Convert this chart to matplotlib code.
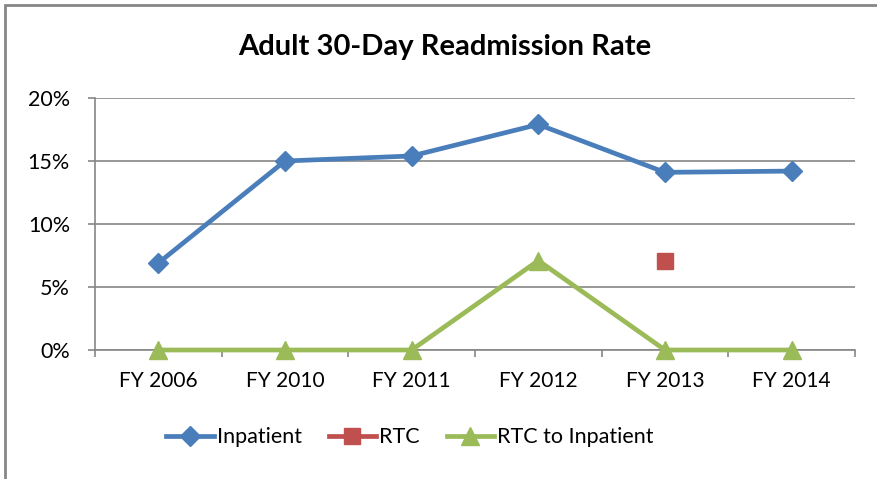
import matplotlib
matplotlib.use("Agg")
import matplotlib.pyplot as plt
from matplotlib.patches import Rectangle
from matplotlib.ticker import FuncFormatter, FixedLocator
import numpy as np

#----Data----#
years = ["FY 2006", "FY 2010", "FY 2011", "FY 2012", "FY 2013", "FY 2014"]
inpatient = [6.9, 15.0, 15.4, 17.9, 14.1, 14.2]
rtc = [None, None, None, None, 7.1, None]
rtc_to_inpatient = [0.0, 0.0, 0.0, 7.1, 0.0, 0.0]

plt.rcParams['font.family'] = ['Lato', 'DejaVu Sans']

grey = '#868686'

fig = plt.figure(figsize=(8.77, 4.79), dpi=100)
ax = fig.add_axes([0.1083, 0.2693, 0.8666, 0.5261])

x = np.arange(len(years))
rtc_vals = np.array([np.nan if v is None else v for v in rtc], dtype=float)

ax.plot(x, inpatient, color='#4A7EBB', lw=3.4, marker='D', markersize=10,
        label='Inpatient', zorder=4, clip_on=False)
ax.plot(x, rtc_vals, color='#C0504D', lw=3.4, marker='s', markersize=11,
        label='RTC', zorder=4, clip_on=False)
ax.plot(x, rtc_to_inpatient, color='#9BBB59', lw=3.4, marker='^', markersize=13,
        label='RTC to Inpatient', zorder=4, clip_on=False)

ax.set_xlim(-0.5, len(years) - 0.5)
ax.set_ylim(0, 20)
ax.set_yticks([0, 5, 10, 15, 20])
ax.yaxis.set_major_formatter(FuncFormatter(lambda v, p: f'{v:.0f}%'))
ax.set_xticks(x)
ax.set_xticklabels(years)
ax.xaxis.set_minor_locator(FixedLocator(np.arange(-0.5, len(years), 1.0)))

ax.tick_params(axis='x', which='major', length=0, labelsize=15, pad=15)
ax.tick_params(axis='x', which='minor', length=5, color=grey, width=1.2)
ax.tick_params(axis='y', length=5, color=grey, width=1.2, labelsize=15.5, pad=13)

ax.grid(axis='y', color=grey, lw=1.2, zorder=0)
for s in ['top', 'right']:
    ax.spines[s].set_visible(False)
for s in ['left', 'bottom']:
    ax.spines[s].set_color(grey)
    ax.spines[s].set_linewidth(1.2)

fig.text(0.507, 0.902, 'Adult 30-Day Readmission Rate', ha='center', va='center',
         fontsize=21, fontweight='bold')

leg = fig.legend(loc='center', bbox_to_anchor=(0.4675, 0.087), ncol=3, frameon=False,
                 fontsize=15.5, handlelength=2.2, columnspacing=1.25, handletextpad=0.15)

# chart frame, visible on the top and left edges
fig.patches.append(Rectangle((5 / 877, -0.1), 2, 1 - 4.5 / 479 + 0.1,
                             transform=fig.transFigure, fill=False,
                             edgecolor=grey, lw=2))

fig.savefig('out.png', dpi=100)
